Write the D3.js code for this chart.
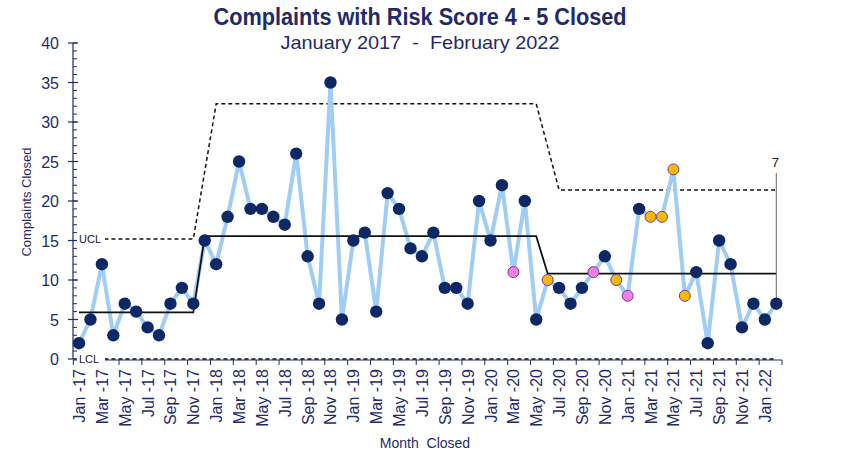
<!DOCTYPE html>
<html>
<head>
<meta charset="utf-8">
<script src="https://cdn.jsdelivr.net/npm/d3@7"></script>
<style>
  body { margin: 0; background: #fff; }
  text { font-family: "Liberation Sans", Arial, sans-serif; }
</style>
</head>
<body>
<svg id="svg" width="845" height="455"></svg>
<script>
// month labels Jan-17 .. Feb-22
const months = []
const monNames = ['Jan','Feb','Mar','Apr','May','Jun','Jul','Aug','Sep','Oct','Nov','Dec']
for (let yr = 17; yr <= 22; yr++) {
  for (let m = 0; m < 12; m++) {
    if (yr === 22 && m > 1) break
    months.push(monNames[m] + ' -' + yr)
  }
}

const closed = [
  2, 5, 12, 3, 7, 6, 4, 3, 7, 9, 7, 15,
  12, 18, 25, 19, 19, 18, 17, 26, 13, 7, 35, 5,
  15, 16, 6, 21, 19, 14, 13, 16, 9, 9, 7, 20,
  15, 22, 11, 20, 5, 10, 9, 7, 9, 11, 13, 10,
  8, 19, 18, 18, 24, 8, 11, 2, 15, 12, 4, 7,
  5, 7
]

// highlighted points
const orangeMonths = ['Jun -20', 'Dec -20', 'Mar -21', 'Apr -21', 'May -21', 'Jun -21']
const pinkMonths = ['Mar -20', 'Oct -20', 'Jan -21']

// control chart phases (index of first / last month)
const phaseStart = [0, 11, 41]
const phaseEnd = [10, 40, 61]
const phaseMean = [5.9, 15.55, 10.8]
const phaseUcl = [15.2, 32.3, 21.4]

const yTicks = [0, 5, 10, 15, 20, 25, 30, 35, 40]

const navy = '#1f2a6b'
const svg = d3.select('#svg')

const x = d3.scaleBand().domain(months).range([73.3, 782])
const y = d3.scaleLinear().domain([0, 40]).range([359, 43])
const cx = i => x(months[i]) + x.bandwidth() / 2

// titles
svg.append('text').attr('x', 420).attr('y', 25).attr('text-anchor', 'middle')
  .attr('font-size', 23).attr('font-weight', 'bold').attr('fill', navy)
  .attr('textLength', 413).attr('lengthAdjust', 'spacingAndGlyphs')
  .text('Complaints with Risk Score 4 - 5 Closed')
svg.append('text').attr('x', 420).attr('y', 49).attr('text-anchor', 'middle')
  .attr('font-size', 19).attr('fill', navy).attr('xml:space', 'preserve')
  .attr('textLength', 279).attr('lengthAdjust', 'spacingAndGlyphs')
  .text('January 2017  -  February 2022')

// y axis
const yAxis = svg.append('g')
yAxis.append('line').attr('x1', 73).attr('x2', 73).attr('y1', y(40)).attr('y2', y(0))
  .attr('stroke', navy).attr('stroke-width', 1.2)
yAxis.selectAll('.minor').data(d3.range(0, 41)).enter().append('line')
  .attr('x1', 73).attr('x2', 77).attr('y1', d => y(d)).attr('y2', d => y(d))
  .attr('stroke', navy)
yAxis.selectAll('.major').data(yTicks).enter().append('line')
  .attr('x1', 68).attr('x2', 78).attr('y1', d => y(d)).attr('y2', d => y(d))
  .attr('stroke', navy).attr('stroke-width', 1.2)
yAxis.selectAll('.lbl').data(yTicks).enter().append('text')
  .attr('x', 59).attr('y', d => y(d) + 6).attr('text-anchor', 'end')
  .attr('font-size', 16).attr('fill', navy).text(d => d)
svg.append('text').attr('transform', 'translate(31,202) rotate(-90)')
  .attr('text-anchor', 'middle').attr('font-size', 13).attr('fill', navy)
  .text('Complaints Closed')

// x axis
svg.append('line').attr('x1', 73).attr('x2', 782).attr('y1', 360).attr('y2', 360)
  .attr('stroke', navy)
svg.selectAll('.xt').data(d3.range(0, months.length + 1, 2)).enter().append('line')
  .attr('x1', d => 73.3 + d * x.step()).attr('x2', d => 73.3 + d * x.step())
  .attr('y1', 360).attr('y2', 365).attr('stroke', navy)
svg.selectAll('.xl').data(months.filter((d, i) => i % 2 === 0)).enter().append('text')
  .attr('transform', d => `translate(${x(d) + x.bandwidth() / 2 + 6},369) rotate(-90)`)
  .attr('text-anchor', 'end').attr('font-size', 16).attr('fill', navy).text(d => d)
svg.append('text').attr('x', 425).attr('y', 448).attr('text-anchor', 'middle')
  .attr('font-size', 14).attr('fill', navy).attr('xml:space', 'preserve')
  .text('Month  Closed')

// control limits
const meanPts = [], uclPts = []
phaseStart.forEach((s, p) => {
  meanPts.push([cx(s), y(phaseMean[p])], [cx(phaseEnd[p]), y(phaseMean[p])])
  const us = p === 0 ? 1 : s + 1
  uclPts.push([cx(us), y(phaseUcl[p])], [cx(phaseEnd[p]), y(phaseUcl[p])])
})
const line = d3.line()
svg.append('path').attr('d', line(uclPts)).attr('fill', 'none')
  .attr('stroke', '#111').attr('stroke-width', 1.5).attr('stroke-dasharray', '4,3')
svg.append('path').attr('d', line([[cx(1), y(0)], [cx(months.length - 1), y(0)]]))
  .attr('fill', 'none').attr('stroke', '#111').attr('stroke-width', 1.5).attr('stroke-dasharray', '4,3')

// data line
svg.append('path').datum(closed)
  .attr('d', d3.line().x((d, i) => cx(i)).y(d => y(d)))
  .attr('fill', 'none').attr('stroke', '#9fcdf6').attr('stroke-width', 4)
  .attr('stroke-linejoin', 'round')

svg.append('path').attr('d', line(meanPts)).attr('fill', 'none')
  .attr('stroke', '#111').attr('stroke-width', 1.8)

// labels for limits
const limLabel = (t, v) => {
  svg.append('rect').attr('x', 77).attr('y', y(v) - 6).attr('width', 28).attr('height', 12).attr('fill', '#fff')
  svg.append('text').attr('x', 79).attr('y', y(v) + 4).attr('font-size', 11).attr('fill', '#222').text(t)
}
limLabel('UCL', phaseUcl[0])
limLabel('LCL', 0)

// last value callout
const last = months.length - 1
svg.append('line').attr('x1', cx(last)).attr('x2', cx(last))
  .attr('y1', 173).attr('y2', y(closed[last])).attr('stroke', '#666').attr('stroke-width', 1)
svg.append('text').attr('x', cx(last) - 1).attr('y', 167).attr('text-anchor', 'middle')
  .attr('font-size', 13).attr('fill', '#222').text(closed[last])

// points
svg.selectAll('.pt').data(closed).enter().append('circle')
  .attr('cx', (d, i) => cx(i)).attr('cy', d => y(d))
  .attr('r', (d, i) => orangeMonths.includes(months[i]) || pinkMonths.includes(months[i]) ? 5.5 : 6.2)
  .attr('fill', (d, i) => orangeMonths.includes(months[i]) ? '#f7b80c'
    : pinkMonths.includes(months[i]) ? '#f07fe9' : '#0e2865')
  .attr('stroke', (d, i) => orangeMonths.includes(months[i]) || pinkMonths.includes(months[i]) ? '#7a3d8c' : 'none')
  .attr('stroke-width', 1)
</script>
</body>
</html>
